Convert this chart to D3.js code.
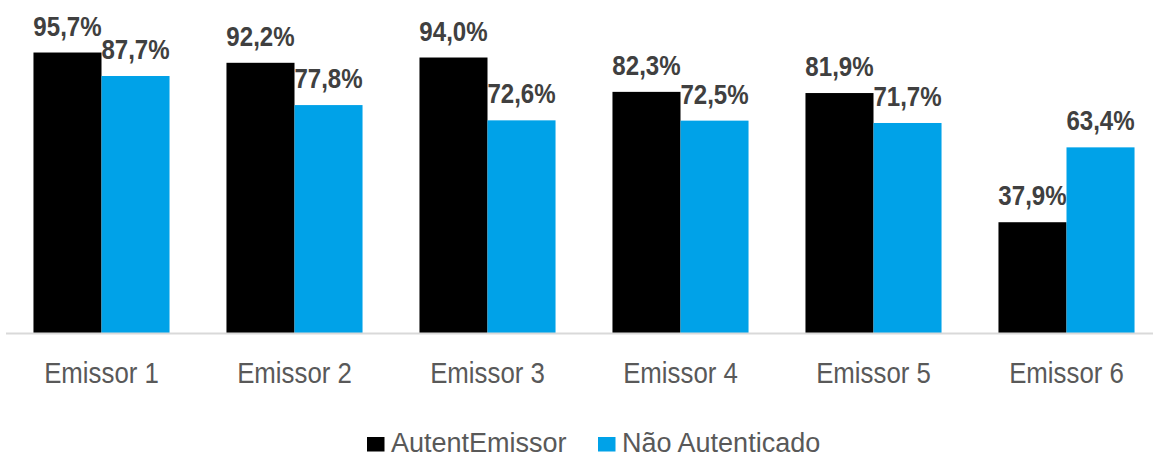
<!DOCTYPE html>
<html><head><meta charset="utf-8">
<script src="https://cdn.jsdelivr.net/npm/d3@7"></script>
<style>
html,body{margin:0;padding:0;background:#fff;}
svg{display:block;}
text{font-family:"Liberation Sans","Arial",sans-serif;}
</style></head><body>
<svg id="chart" width="1153" height="458"></svg>
<script>
const categories = ["Emissor 1","Emissor 2","Emissor 3","Emissor 4","Emissor 5","Emissor 6"];
const seriesNames = ["AutentEmissor","Não Autenticado"];
const autentEmissor = [95.7, 92.2, 94.0, 82.3, 81.9, 37.9];
const naoAutenticado = [87.7, 77.8, 72.6, 72.5, 71.7, 63.4];
const colors = ["#000000","#00A2E8"];

const svg = d3.select("#chart");
const baseY = 333.5;
const x = d3.scaleBand().domain(categories).range([5,1163]).paddingInner(0.295).paddingOuter(0.1475);
const xs = d3.scaleBand().domain(seriesNames).range([0,x.bandwidth()]);
const y = d3.scaleLinear().domain([0,100]).range([baseY, baseY-293.6]);
const fmt = v => d3.format(".1f")(v).replace(".", ",") + "%";

const series = [autentEmissor, naoAutenticado];
series.forEach((vals, si) => {
  const g = svg.append("g");
  g.selectAll("rect").data(vals).join("rect")
    .attr("x", (d,i) => x(categories[i]) + xs(seriesNames[si]))
    .attr("width", xs.bandwidth())
    .attr("y", d => y(d))
    .attr("height", d => y(0) - y(d))
    .attr("fill", colors[si]);
  g.selectAll("text").data(vals).join("text")
    .attr("transform", (d,i) => `translate(${x(categories[i]) + xs(seriesNames[si]) + xs.bandwidth()/2},${y(d) - 17}) scale(0.86,1)`)
    .attr("text-anchor","middle")
    .attr("font-size", 28)
    .attr("font-weight","bold")
    .attr("fill","#404040")
    .text(fmt);
});

const axis = svg.append("g").attr("transform",`translate(0,${baseY})`)
  .call(d3.axisBottom(x).tickSize(0).tickPadding(38));
axis.select(".domain").attr("d","M6,0H1153").attr("stroke","#D9D9D9").attr("stroke-width",2);
axis.selectAll(".tick text").attr("font-size",29).attr("fill","#595959")
  .attr("font-family",'"Liberation Sans",Arial,sans-serif').attr("dy",0)
  .attr("y", 50).attr("transform","scale(0.89,1)");

const legendX = [367, 598];
const leg = svg.append("g");
seriesNames.forEach((n,i) => {
  leg.append("rect").attr("x",legendX[i]).attr("y",437).attr("width",17.5).attr("height",14.5).attr("fill",colors[i]);
  leg.append("text").attr("transform",`translate(${legendX[i]+24},451.5) scale(0.965,1)`)
    .attr("font-size",28).attr("fill","#595959").text(n);
});
</script></body></html>
